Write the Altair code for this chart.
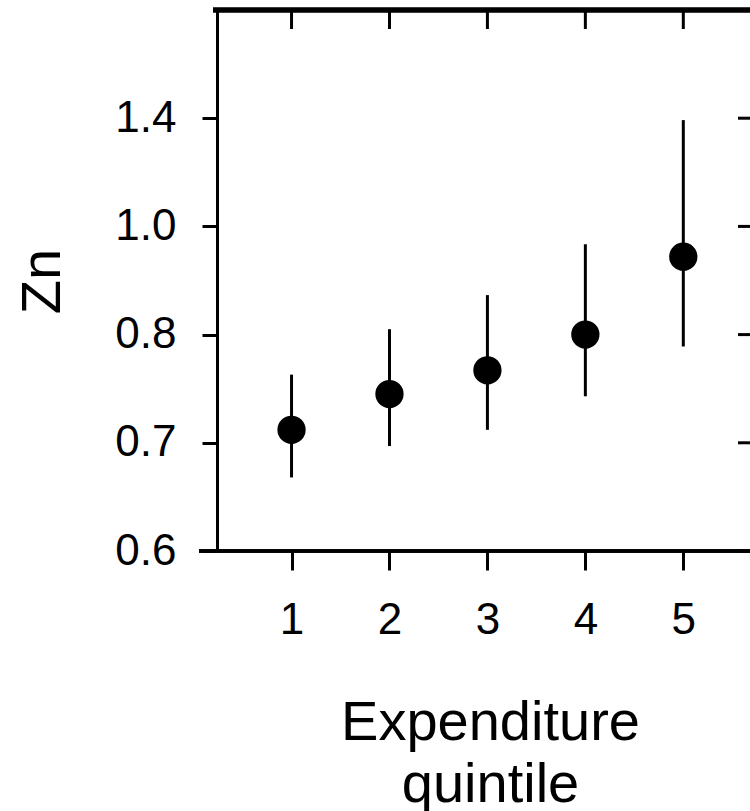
import altair as alt
import pandas as pd

# Data
quintile = [1, 2, 3, 4, 5]
zn = [0.712, 0.745, 0.767, 0.800, 0.944]
zn_lo = [0.668, 0.697, 0.712, 0.743, 0.789]
zn_hi = [0.763, 0.810, 0.873, 0.967, 1.393]

y_ticks = [0.6, 0.7, 0.8, 1.0, 1.4]
x_ticks = [1, 2, 3, 4, 5]

df = pd.DataFrame({"quintile": quintile, "zn": zn, "lo": zn_lo, "hi": zn_hi})
df_yt = pd.DataFrame({"v": y_ticks})
df_xt = pd.DataFrame({"q": x_ticks})

W, H = 533, 541
FONT = "Liberation Sans"

xscale = alt.Scale(domain=[0.239, 5.681], nice=False, zero=False)
yscale = alt.Scale(
    type="linear",
    domain=[0.6, 0.7, 0.8, 1.0, 1.4, 1.8],
    range=[541, 432.8, 324.6, 216.4, 108.2, 0],
    nice=False,
    zero=False,
)

xaxis = alt.Axis(
    values=x_ticks, format="d", grid=False, domain=False,
    tickSize=19, tickWidth=3, tickColor="black",
    labelFontSize=44, labelFont=FONT, labelColor="black", labelPadding=28,
    title=["Expenditure", "quintile"], titleFont=FONT, titleFontSize=56,
    titleFontWeight="normal", titleColor="black", titleLineHeight=62,
    titleX=273, titleY=188, titleBaseline="alphabetic", titleAlign="center",
)
yaxis = alt.Axis(
    values=y_ticks, format=".1f", grid=False,
    domain=True, domainWidth=3, domainColor="black",
    tickSize=15, tickWidth=3, tickColor="black",
    labelFontSize=44, labelFont=FONT, labelColor="black", labelPadding=26,
    title="Zn", titleFont=FONT, titleFontSize=56, titleFontWeight="normal",
    titleColor="black", titleAngle=270, titleX=-158, titleY=271,
    titleBaseline="alphabetic", titleAlign="center",
)

err = alt.Chart(df).mark_rule(strokeWidth=3, color="black").encode(
    x=alt.X("quintile:Q", scale=xscale, axis=xaxis),
    y=alt.Y("lo:Q", scale=yscale, axis=yaxis),
    y2="hi:Q",
)
pts = alt.Chart(df).mark_circle(size=800, opacity=1, color="black").encode(
    x=alt.X("quintile:Q", scale=xscale),
    y=alt.Y("zn:Q", scale=yscale),
)
top_line = alt.Chart(df).mark_rule(strokeWidth=4.5, color="black").encode(
    x=alt.value(-4), x2=alt.value(W), y=alt.value(0)
)
bottom_line = alt.Chart(df).mark_rule(strokeWidth=3, color="black").encode(
    x=alt.value(-18), x2=alt.value(W), y=alt.value(H)
)
top_ticks = alt.Chart(df_xt).mark_rule(strokeWidth=3, color="black").encode(
    x=alt.X("q:Q", scale=xscale),
    y=alt.value(0), y2=alt.value(19),
)
right_ticks = alt.Chart(df_yt).mark_rule(strokeWidth=3, color="black").encode(
    y=alt.Y("v:Q", scale=yscale),
    x=alt.value(W - 12), x2=alt.value(W),
)

chart = (
    alt.layer(err, pts, top_ticks, right_ticks, top_line, bottom_line)
    .properties(
        width=W, height=H,
        autosize=alt.AutoSizeParams(type="none"),
        padding={"left": 217, "top": 10, "right": 0, "bottom": 260},
        background="white",
    )
    .configure_view(strokeWidth=0)
)

chart.save("out.html", embed_options={"renderer": "svg", "actions": False})
